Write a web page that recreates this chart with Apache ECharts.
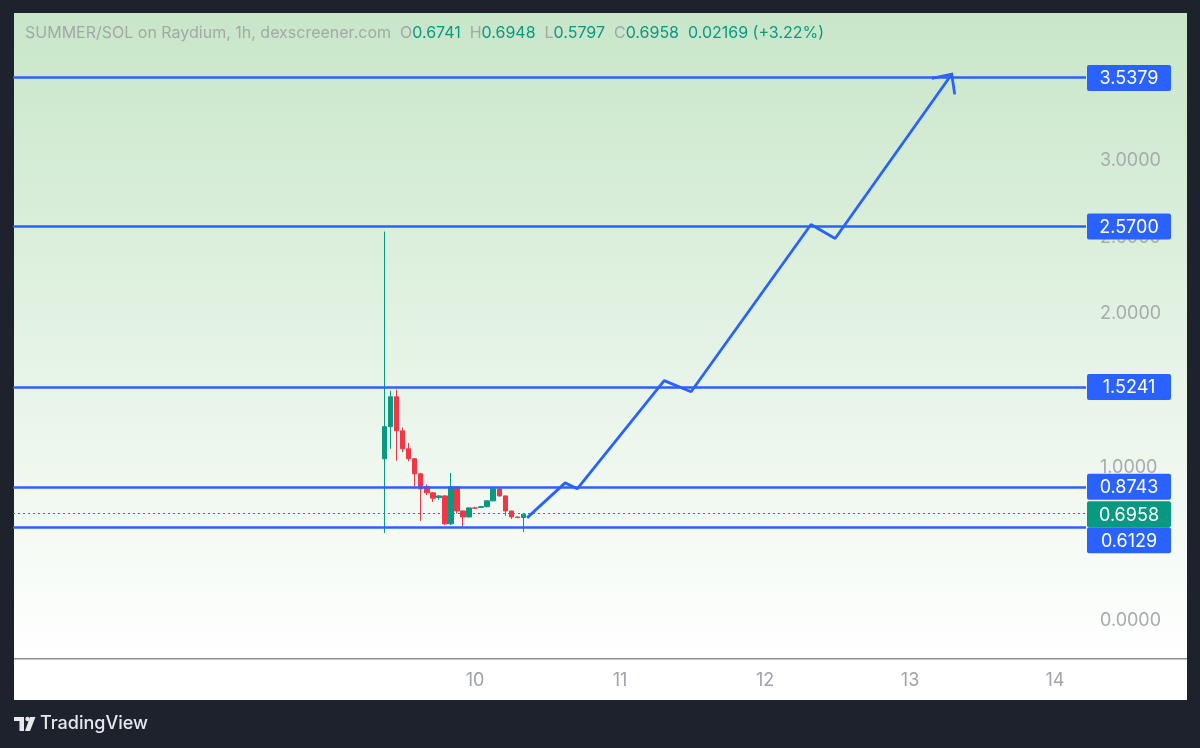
<!DOCTYPE html>
<html><head><meta charset="utf-8">
<script src="https://cdn.jsdelivr.net/npm/echarts@6/dist/echarts.min.js"></script>
<style>html,body{margin:0;padding:0;background:#1e222d;}#c{width:1200px;height:748px;}</style>
</head><body><div id="c"></div>
<script>
// ---- data ----
const candleHours = [225,226,227,228,229,230,231,232,233,234,235,236,237,238,239,240,241,242,243,244,245,246,247,248];
const opens  = [1.057,1.266,1.461,1.239,1.122,1.057,0.959,0.875,0.835,0.805,0.815,0.633,0.874,0.717,0.678,0.737,0.740,0.745,0.783,0.861,0.815,0.717,0.678,0.6741];
const closes = [1.266,1.461,1.239,1.122,1.057,0.959,0.861,0.835,0.800,0.815,0.633,0.874,0.717,0.678,0.737,0.735,0.745,0.783,0.861,0.815,0.717,0.678,0.6741,0.6958];
const lows   = [0.574,1.122,1.044,1.100,1.040,0.860,0.652,0.820,0.775,0.790,0.625,0.625,0.700,0.615,0.675,0.733,0.738,0.740,0.780,0.810,0.685,0.665,0.670,0.5797];
const highs  = [2.537,1.500,1.507,1.260,1.160,1.060,0.965,0.890,0.840,0.820,0.820,0.965,0.874,0.720,0.740,0.745,0.750,0.785,0.874,0.874,0.815,0.717,0.680,0.6958];
const levels = [3.5379, 2.5700, 1.5241, 0.8743, 0.6129];
const lastPrice = 0.6958;
const pathHours  = [248.6, 254.9, 256.9, 271.3, 275.75, 295.6, 299.6, 318.9];
const pathValues = [0.672, 0.900, 0.861, 1.566, 1.494, 2.583, 2.492, 3.562];
const arrowHours  = [315.6, 318.9, 319.4];
const arrowValues = [3.535, 3.562, 3.431];
const dayLabels = [10, 11, 12, 13, 14];
const priceTicks = [0, 1, 2, 2.5, 3];

const FONT = 'Inter, Roboto, sans-serif';
const BLUE = '#2962ff', GREEN = '#089981', RED = '#f23645';

const chart = echarts.init(document.getElementById('c'));
const candleData = candleHours.map((h, i) => [h, opens[i], closes[i], lows[i], highs[i]]);
const pathData = pathHours.map((h, i) => [h, pathValues[i]]);
const arrowData = arrowHours.map((h, i) => [h, arrowValues[i]]);

const bgGraphics = [
  {type:'rect', z:-10, shape:{x:14,y:13,width:1173,height:687}, style:{fill:'#ffffff'}},
  {type:'rect', z:-9, shape:{x:14,y:13,width:1173,height:646},
   style:{fill:new echarts.graphic.LinearGradient(0,0,0,1,[{offset:0,color:'#c8e6c9'},{offset:1,color:'#ffffff'}])}},
  {type:'rect', z:5, shape:{x:14,y:658,width:1173,height:1.5}, style:{fill:'#8a8e97'}},
  {type:'text', z:5, style:{text:'TradingView', x:40, y:724, fill:'#e8e9ec', font:'500 18px '+FONT, textVerticalAlign:'middle'}},
  {type:'rect', z:5, shape:{x:14,y:717,width:10,height:4}, style:{fill:'#e8e9ec'}},
  {type:'rect', z:5, shape:{x:19.5,y:717,width:4.5,height:14}, style:{fill:'#e8e9ec'}},
  {type:'circle', z:5, shape:{cx:27.5,cy:719,r:2.2}, style:{fill:'#e8e9ec'}},
  {type:'polygon', z:5, shape:{points:[[30,717],[35.5,717],[30,731],[25,731]]}, style:{fill:'#e8e9ec'}}
];

const option = {
  backgroundColor: '#1e222d',
  animation: false,
  title: {
    left: 25, top: 25, padding: 0,
    text: '{g|SUMMER/SOL on Raydium, 1h, dexscreener.com  O}{v|0.6741}{g|  H}{v|0.6948}{g|  L}{v|0.5797}{g|  C}{v|0.6958}{v|  0.02169 (+3.22%)}',
    textStyle: {
      fontWeight: 'normal',
      rich: {
        g: {color:'#a3a8a6', fontSize:16, fontFamily:FONT, fontWeight:'normal'},
        v: {color:GREEN, fontSize:16, fontFamily:FONT, fontWeight:'normal'}
      }
    }
  },
  grid: {left: 13, right: 114, top: 13, bottom: 88.6},
  xAxis: {
    type: 'value', min: 163.5, max: 341.13, interval: 0.5,
    axisLine: {show:false}, axisTick: {show:false}, splitLine: {show:false},
    axisLabel: {
      interval: 0, margin: 12, color: '#9ea2aa', fontSize: 18, fontFamily: FONT,
      formatter: v => { const d = v / 24; return (Math.abs(d - Math.round(d)) < 1e-6 && dayLabels.includes(Math.round(d))) ? String(Math.round(d)) : ''; }
    }
  },
  yAxis: {
    type: 'value', position: 'right', min: -0.25, max: 3.961, interval: 0.25,
    axisLine: {show:false}, axisTick: {show:false}, splitLine: {show:false},
    axisLabel: {
      margin: 14, color: '#a7abad', fontSize: 18, fontFamily: FONT, showMaxLabel: false,
      formatter: v => { const r = Math.round(v * 100) / 100; return priceTicks.includes(r) ? r.toFixed(4) : ''; }
    }
  },
  series: [
    {
      type: 'candlestick', data: candleData, encode: {x: 0, y: [1, 2, 3, 4]},
      barWidth: 5,
      itemStyle: {color: GREEN, color0: RED, borderColor: GREEN, borderColor0: RED, borderWidth: 1},
      markLine: {
        silent: true, symbol: ['none','none'], label: {show:false},
        lineStyle: {color: GREEN, type: [2, 3], width: 1},
        data: [{yAxis: lastPrice}]
      },
      z: 3
    },
    {
      type: 'line', data: [], 
      markLine: {
        silent: true, symbol: ['none','none'], label: {show:false},
        lineStyle: {color: BLUE, type: 'solid', width: 2.6},
        data: levels.map(v => ({yAxis: v}))
      },
      z: 4
    },
    {
      type: 'line', data: pathData, showSymbol: false, symbol: 'none',
      lineStyle: {color: BLUE, width: 2.8}, z: 5
    },
    {
      type: 'line', data: arrowData, showSymbol: false, symbol: 'none',
      lineStyle: {color: BLUE, width: 2.8, join: 'miter'}, z: 5
    }
  ],
  graphic: bgGraphics
};
chart.setOption(option);

// price boxes on the right scale
const boxes = levels.map(v => ({v, color: BLUE})).concat([{v: lastPrice, color: GREEN}]);
boxes.forEach(b => { b.y = chart.convertToPixel({yAxisIndex: 0}, b.v); });
boxes.sort((a, b) => a.y - b.y);
const BH = 26;
let prevBottom = -1e9;
boxes.forEach(b => {
  let top = b.y - BH / 2;
  if (top < prevBottom) top = prevBottom;
  b.top = top; prevBottom = top + BH;
});
const boxGraphics = [];
boxes.forEach(b => {
  boxGraphics.push({type:'rect', z:20, shape:{x:1087, y:b.top, width:84, height:BH, r:2}, style:{fill:b.color}});
  boxGraphics.push({type:'text', z:21, style:{text:b.v.toFixed(4), x:1129, y:b.top + BH/2 + 1, fill:'#ffffff', font:'18px '+FONT, textAlign:'center', textVerticalAlign:'middle'}});
});
chart.setOption({graphic: bgGraphics.concat(boxGraphics)}, {replaceMerge: ['graphic']});
</script></body></html>
